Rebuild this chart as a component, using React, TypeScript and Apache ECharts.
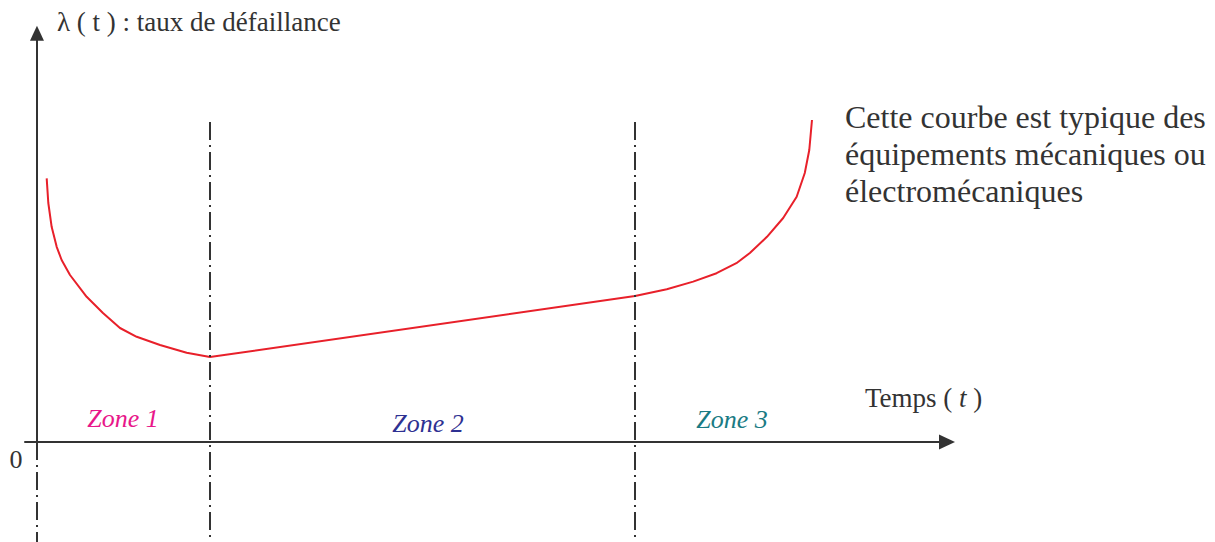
import React, { useEffect, useRef } from "react";
import * as echarts from "echarts";

// Time (arbitrary units) and failure rate λ(t) (arbitrary units)
const timeValues = [
  1.08, 1.26, 1.63, 2.19, 2.74, 3.67, 5.52, 7.33, 9.22, 11.08, 13.67, 16.63, 19.22,
  66.44, 69.97, 72.9, 75.5, 77.7, 79.2, 81.1, 82.9, 84.4, 85.3, 85.8, 86.1,
];
const failureRate = [
  65.9, 59.75, 53.8, 48.8, 45.5, 41.75, 36.3, 32.25, 28.5, 26.3, 24.25, 22.3, 21.25,
  36.5, 38.2, 40.1, 42.2, 44.7, 47.25, 51.3, 56, 61.3, 67.25, 73, 80.5,
];
const zoneBoundaries = [19.22, 66.44];
const zoneNames = ["Zone 1", "Zone 2", "Zone 3"];
const xRange = [-1.33, 101.1];
const yRange = [-25, 105];
const yAxisTop = 102.2;
const separatorTop = 80;

export default function App() {
  const ref = useRef<HTMLDivElement>(null);

  useEffect(() => {
    const chart = echarts.init(ref.current!, null, { renderer: "svg" });
    const ink = "#333333";
    const serif = "'Liberation Serif', 'Times New Roman', serif";
    const dashDot = [18, 5, 2, 5];
    const curve = timeValues.map((t, i) => [t, failureRate[i]]);

    const markLines: any[] = [
      [
        { coord: [0, 0], symbol: "none", lineStyle: { type: "solid", color: ink, width: 2 } },
        { coord: [0, yAxisTop], symbol: "triangle", symbolSize: [14, 15] },
      ],
      [
        { coord: [0, 0], symbol: "none", lineStyle: { type: dashDot, color: ink, width: 2 } },
        { coord: [0, yRange[0]], symbol: "none" },
      ],
      ...zoneBoundaries.map((b) => [
        { coord: [b, separatorTop], symbol: "none", lineStyle: { type: dashDot, color: ink, width: 2 } },
        { coord: [b, yRange[0]], symbol: "none" },
      ]),
    ];

    const zoneColors = ["#e8178a", "#2e3192", "#1a7b84"];
    const zoneCenters = [
      [123, 418],
      [428, 423],
      [732, 419],
    ];

    chart.setOption({
      animation: false,
      grid: { left: 25, right: 268, top: 22, bottom: 0 },
      xAxis: {
        type: "value",
        min: xRange[0],
        max: xRange[1],
        splitLine: { show: false },
        axisTick: { show: false },
        axisLabel: { show: false },
        axisLine: {
          onZero: true,
          symbol: ["none", "triangle"],
          symbolSize: [15, 16],
          lineStyle: { color: ink, width: 2 },
        },
        name: "Temps ( {i|t} )",
        nameLocation: "end",
        nameGap: -82,
        nameTextStyle: {
          align: "left",
          verticalAlign: "bottom",
          padding: [0, 0, 31, 0],
          color: ink,
          fontFamily: serif,
          fontSize: 27,
          rich: {
            i: { fontStyle: "italic", color: ink, fontFamily: serif, fontSize: 27 },
          },
        },
      },
      yAxis: {
        type: "value",
        min: yRange[0],
        max: yRange[1],
        splitLine: { show: false },
        axisTick: { show: false },
        axisLabel: { show: false },
        axisLine: { show: false, onZero: true },
        name: "λ ( t ) : taux de défaillance",
        nameLocation: "end",
        nameGap: 0,
        nameTextStyle: {
          align: "left",
          verticalAlign: "middle",
          padding: [0, 0, 0, 20],
          color: ink,
          fontFamily: serif,
          fontSize: 27,
        },
      },
      series: [
        {
          type: "line",
          data: curve,
          showSymbol: false,
          symbol: "none",
          smooth: false,
          silent: true,
          lineStyle: { color: "#e8202a", width: 2 },
          markLine: {
            silent: true,
            symbol: "none",
            label: { show: false },
            emphasis: { disabled: true },
            data: markLines,
          },
        },
      ],
      graphic: [
        ...zoneNames.map((z, i) => ({
          type: "text",
          x: zoneCenters[i][0],
          y: zoneCenters[i][1],
          silent: true,
          style: {
            text: z,
            fill: zoneColors[i],
            fontFamily: serif,
            fontStyle: "italic",
            fontSize: 26,
            align: "center",
            verticalAlign: "middle",
          },
        })),
        {
          type: "text",
          x: 16,
          y: 459,
          silent: true,
          style: {
            text: "0",
            fill: ink,
            fontFamily: serif,
            fontSize: 26,
            align: "center",
            verticalAlign: "middle",
          },
        },
        {
          type: "text",
          x: 845,
          y: 98,
          silent: true,
          style: {
            text: "Cette courbe est typique des\néquipements mécaniques ou\nélectromécaniques",
            fill: ink,
            fontFamily: serif,
            fontSize: 32,
            lineHeight: 37,
            align: "left",
            verticalAlign: "top",
          },
        },
      ],
    });

    return () => chart.dispose();
  }, []);

  return (
    <div
      ref={ref}
      style={{ position: "absolute", left: 0, top: 0, width: 1215, height: 542 }}
    />
  );
}
